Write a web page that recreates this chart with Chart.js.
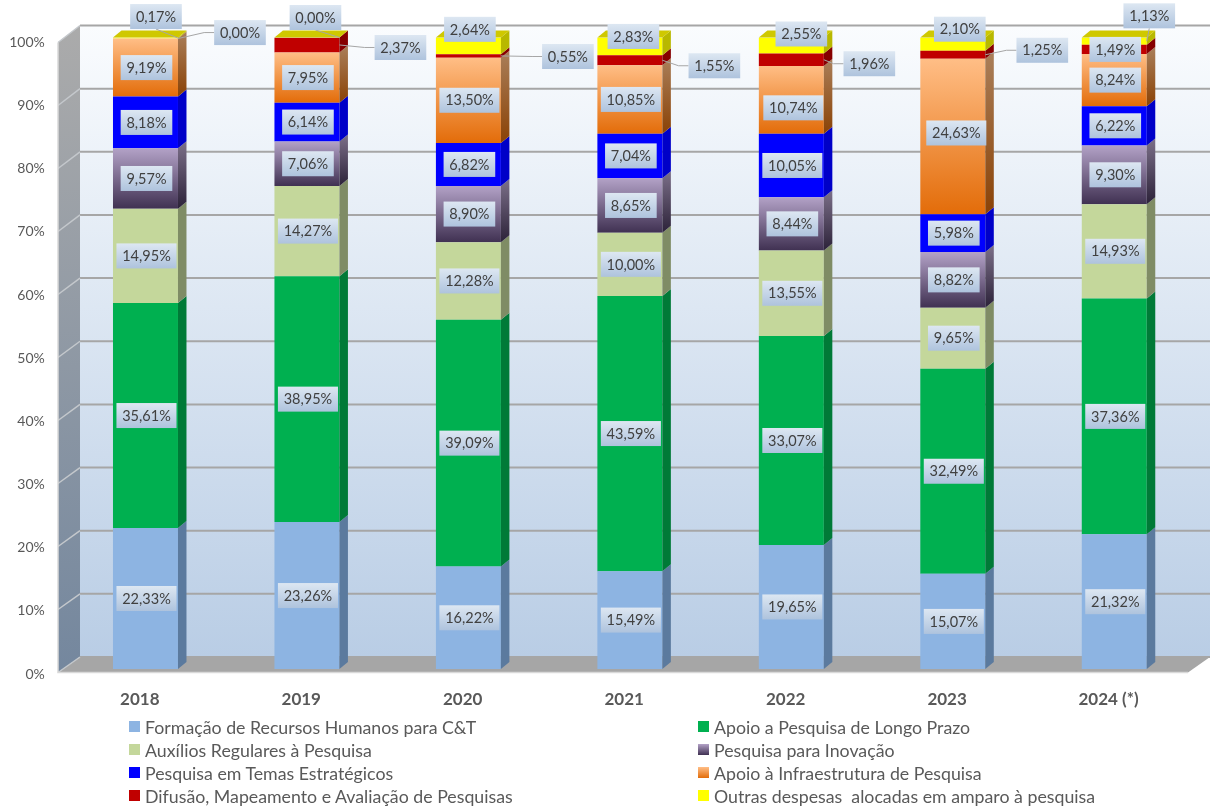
<!DOCTYPE html>
<html>
<head>
<meta charset="utf-8">
<script src="https://cdn.jsdelivr.net/npm/chart.js@4"></script>
<style>
  body { margin: 0; background: #fff; }
  #wrap { position: relative; width: 1211px; height: 810px; overflow: hidden; }
  canvas { display: block; }
  .leg { position: absolute; font: 17.75px Lato, sans-serif; color: #595959; white-space: pre; line-height: 20px; }
  .leg i { position: absolute; left: -16px; top: 4px; width: 11px; height: 11px; }
</style>
</head>
<body>
<div id="wrap"><canvas id="chart" width="1211" height="810"></canvas></div>
<script>
const years = ['2018', '2019', '2020', '2021', '2022', '2023', '2024 (*)'];
const seriesNames = [
  'Formação de Recursos Humanos para C&T',
  'Apoio a Pesquisa de Longo Prazo',
  'Auxílios Regulares à Pesquisa',
  'Pesquisa para Inovação',
  'Pesquisa em Temas Estratégicos',
  'Apoio à Infraestrutura de Pesquisa',
  'Difusão, Mapeamento e Avaliação de Pesquisas',
  'Outras despesas  alocadas em amparo à pesquisa'
];
const formacao = [22.33, 23.26, 16.22, 15.49, 19.65, 15.07, 21.32];
const longoPrazo = [35.61, 38.95, 39.09, 43.59, 33.07, 32.49, 37.36];
const auxilios = [14.95, 14.27, 12.28, 10.00, 13.55, 9.65, 14.93];
const inovacao = [9.57, 7.06, 8.90, 8.65, 8.44, 8.82, 9.30];
const temas = [8.18, 6.14, 6.82, 7.04, 10.05, 5.98, 6.22];
const infra = [9.19, 7.95, 13.50, 10.85, 10.74, 24.63, 8.24];
const difusao = [0.00, 2.37, 0.55, 1.55, 1.96, 1.25, 1.49];
const outras = [0.17, 0.00, 2.64, 2.83, 2.55, 2.10, 1.13];
const allSeries = [formacao, longoPrazo, auxilios, inovacao, temas, infra, difusao, outras];

// front colour (or gradient top/bottom) and side colour of each series
const palette = [
  { front: '#8DB4E2', side: ['#5B7A9E', '#5B7A9E'] },
  { front: '#00B050', side: ['#007A37', '#007A37'] },
  { front: '#C4D79B', side: ['#7F8C65', '#7F8C65'] },
  { front: ['#B3A2C7', '#403152'], side: ['#7C7089', '#2C2239'] },
  { front: '#0000FF', side: ['#0000C8', '#0000C8'] },
  { front: ['#FFBE86', '#E36C09'], side: ['#AA7F5A', '#8A4206'] },
  { front: '#C00000', side: ['#860000', '#860000'] },
  { front: '#FFFF00', side: ['#B8B800', '#B8B800'], top: '#CFC800' }
];

// labels that sit away from their segment: [series, year, dx, dy, leader]
const movedLabels = [
  [7, 0, 10.5, -21.5, 'top'], [6, 0, 94.5, -6, 'right'],
  [7, 1, 8.5, -20, 'top'], [6, 1, 93.5, 2.5, 'right'],
  [7, 2, 1.5, -16.5, ''], [6, 2, 99.5, 0.6, 'right'],
  [7, 3, 3.5, -10, ''], [6, 3, 84.5, 5.5, 'right'],
  [7, 4, 10, -11.5, ''], [6, 4, 78, 4, 'right'], [5, 4, 2, 8, ''],
  [7, 5, 7, -15, ''], [6, 5, 89.5, -4.5, 'right'], [5, 5, 3.5, -3.5, ''],
  [7, 6, 35, -25.3, 'top']
];

const depth = { x: 8.5, y: 7 };   // bar side offset
const wall = { x: 22, y: 12 };    // back wall offset from the bar plane

function verticalGradient(ctx, top, bottom, c0, c1) {
  const g = ctx.createLinearGradient(0, top, 0, bottom);
  g.addColorStop(0, c0);
  g.addColorStop(1, c1);
  return g;
}

function cumulative(series, year) {
  let sum = 0;
  for (let s = 0; s < series; s++) sum += allSeries[s][year];
  return sum;
}

function segmentFill(context) {
  const p = palette[context.datasetIndex];
  if (typeof p.front === 'string') return p.front;
  if (context.dataIndex === undefined) return p.front[0];
  const y = context.chart.scales.y;
  const start = cumulative(context.datasetIndex, context.dataIndex);
  const top = y.getPixelForValue(start + allSeries[context.datasetIndex][context.dataIndex]);
  const bottom = y.getPixelForValue(start);
  // scale has no size yet on the first pass, before layout
  if (!isFinite(top) || !isFinite(bottom)) return p.front[0];
  return verticalGradient(context.chart.ctx, top, bottom, p.front[0], p.front[1]);
}

function polygon(ctx, pts, fill) {
  ctx.beginPath();
  pts.forEach((p, i) => i ? ctx.lineTo(p[0], p[1]) : ctx.moveTo(p[0], p[1]));
  ctx.closePath();
  ctx.fillStyle = fill;
  ctx.fill();
}

// walls, floor and slanted grid lines of the 3D box
const boxPlugin = {
  id: 'box',
  beforeDatasetsDraw(chart) {
    const { ctx, scales: { y } } = chart;
    const frontX = 58, backX = frontX + wall.x, rightX = 1210;
    const y0 = y.getPixelForValue(0), y100 = y.getPixelForValue(100);
    const backBottom = y0 - wall.y, backTop = y100 - wall.y;
    const frontBottom = y0 + 3.5, frontTop = y100 + 5;
    ctx.save();
    polygon(ctx, [[backX, backTop], [rightX, backTop], [rightX, backBottom], [backX, backBottom]],
      verticalGradient(ctx, backTop, backBottom, '#FAFCFE', '#B9CDE5'));
    polygon(ctx, [[frontX, frontTop], [backX, backTop], [backX, backBottom], [frontX, frontBottom]],
      verticalGradient(ctx, backTop, frontBottom, '#ABABAB', '#74879E'));
    polygon(ctx, [[frontX, frontBottom], [backX, backBottom], [rightX, backBottom], [rightX - wall.x, frontBottom]], '#A6A6A6');
    y.ticks.forEach(t => {
      const py = y.getPixelForValue(t.value);
      ctx.strokeStyle = '#A6A6A6';
      ctx.lineWidth = 2;
      ctx.beginPath();
      ctx.moveTo(backX, py - wall.y);
      ctx.lineTo(rightX, py - wall.y);
      ctx.stroke();
      const f = frontBottom + (frontTop - frontBottom) * t.value / 100;
      ctx.strokeStyle = '#C4C8CC';
      ctx.lineWidth = 1.5;
      ctx.beginPath();
      ctx.moveTo(frontX, f);
      ctx.lineTo(backX, py - wall.y);
      ctx.stroke();
    });
    ctx.strokeStyle = '#D9D9D9';
    ctx.lineWidth = 1.5;
    ctx.beginPath();
    ctx.moveTo(frontX, frontTop);
    ctx.lineTo(frontX, frontBottom);
    ctx.lineTo(rightX - wall.x, frontBottom);
    ctx.stroke();
    ctx.restore();
  },
  afterDatasetsDraw(chart) {
    const { ctx } = chart;
    ctx.save();
    chart.data.datasets.forEach((ds, s) => {
      chart.getDatasetMeta(s).data.forEach(bar => {
        const r = bar.x + bar.width / 2, top = bar.y, bottom = bar.base;
        const side = palette[s].side;
        polygon(ctx, [[r, top], [r + depth.x, top - depth.y], [r + depth.x, bottom - depth.y], [r, bottom]],
          verticalGradient(ctx, top - depth.y, bottom, side[0], side[1]));
        if (s === chart.data.datasets.length - 1) {
          const l = bar.x - bar.width / 2;
          polygon(ctx, [[l, top], [l + depth.x, top - depth.y], [r + depth.x, top - depth.y], [r, top]], palette[s].top);
        }
      });
    });
    ctx.restore();
  }
};

// value boxes with leader lines
const labelPlugin = {
  id: 'valueBoxes',
  afterDraw(chart) {
    const { ctx } = chart;
    ctx.save();
    ctx.font = '14.5px Lato, sans-serif';
    const boxes = [];
    chart.data.datasets.forEach((ds, s) => {
      chart.getDatasetMeta(s).data.forEach((bar, i) => {
        const moved = movedLabels.find(m => m[0] === s && m[1] === i);
        const midY = (bar.y + bar.base) / 2;
        const cx = bar.x + (moved ? moved[2] : 1);
        const cy = midY + (moved ? moved[3] : 0);
        const text = ds.data[i].toFixed(2).replace('.', ',') + '%';
        const w = ctx.measureText(text).width + 11.5;
        boxes.push({ text, cx, cy, w, h: 25 });
        if (moved && moved[4]) {
          ctx.strokeStyle = '#A6A6A6';
          ctx.lineWidth = 1;
          ctx.beginPath();
          if (moved[4] === 'top') {
            ctx.moveTo(cx, cy + 12.5);
            ctx.lineTo(bar.x + bar.width / 2, midY);
          } else {
            ctx.moveTo(bar.x + bar.width / 2, midY);
            ctx.lineTo(cx - w / 2 - 10, cy);
            ctx.lineTo(cx - w / 2, cy);
          }
          ctx.stroke();
        }
      });
    });
    boxes.forEach(b => {
      const t = b.cy - b.h / 2;
      ctx.fillStyle = verticalGradient(ctx, t, t + b.h, '#DDE7F2', '#AEC3DD');
      ctx.fillRect(b.cx - b.w / 2, t, b.w, b.h);
      ctx.fillStyle = '#404040';
      ctx.textAlign = 'center';
      ctx.textBaseline = 'middle';
      ctx.fillText(b.text, b.cx, b.cy + 0.5);
    });
    ctx.restore();
  }
};

const chart = new Chart(document.getElementById('chart'), {
  type: 'bar',
  data: {
    labels: years,
    datasets: seriesNames.map((name, s) => ({
      label: name,
      data: allSeries[s],
      backgroundColor: segmentFill,
      borderWidth: 0,
      barPercentage: 0.4025,
      categoryPercentage: 1
    }))
  },
  options: {
    responsive: false,
    animation: false,
    layout: { padding: { left: 0, right: 16, top: 37.5, bottom: 0 } },
    plugins: { legend: { display: false }, tooltip: { enabled: false } },
    scales: {
      x: {
        stacked: true,
        afterFit: s => { s.height = 141; },
        grid: { display: false },
        border: { display: false },
        ticks: { padding: 12, labelOffset: -5.7, maxRotation: 0, color: '#595959', font: { family: 'Lato, sans-serif', size: 17, weight: 'bold' } }
      },
      y: {
        stacked: true,
        min: 0,
        max: 100,
        afterFit: s => { s.width = 64.75; },
        grid: { display: false, drawTicks: false },
        border: { display: false },
        ticks: {
          stepSize: 10,
          padding: 20,
          labelOffset: 5,
          color: '#595959',
          font: { family: 'Lato, sans-serif', size: 14 },
          callback: v => v + '%'
        }
      }
    }
  },
  plugins: [boxPlugin, labelPlugin]
});

// two-column legend under the chart, built from the chart's datasets
const wrap = document.getElementById('wrap');
const legendCols = [145, 714];
const legendRows = [717, 740, 763, 786];
chart.data.datasets.forEach((ds, s) => {
  const el = document.createElement('div');
  el.className = 'leg';
  el.style.left = legendCols[s % 2] + 'px';
  el.style.top = legendRows[Math.floor(s / 2)] + 'px';
  const f = palette[s].front;
  const swatch = document.createElement('i');
  swatch.style.background = typeof f === 'string' ? f : 'linear-gradient(' + f[0] + ',' + f[1] + ')';
  el.appendChild(swatch);
  el.appendChild(document.createTextNode(ds.label));
  wrap.appendChild(el);
});
</script>
</body>
</html>
